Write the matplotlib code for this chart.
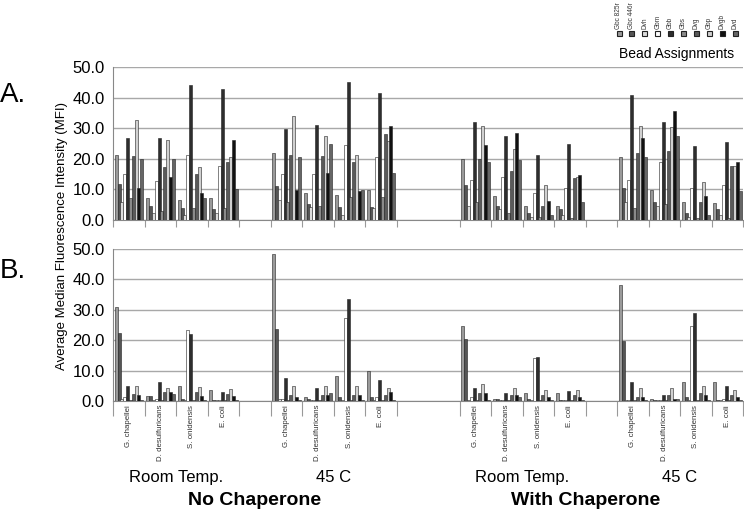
import numpy as np
import matplotlib
matplotlib.use("Agg")
import matplotlib.pyplot as plt

plt.rcParams['font.family'] = ['Liberation Sans', 'DejaVu Sans']

beads = ["Gbc 825r", "Gbc 446r", "Dvh", "Gbm", "Gbb", "Gbs", "Dvg", "Gbp", "Dvgb", "Dvd"]
bead_colors = ["#9a9a9a", "#555555", "#dcdcdc", "#ffffff", "#2e2e2e",
               "#8a8a8a", "#5a5a5a", "#d0d0d0", "#111111", "#666666"]

organisms = ["G. chapellei", "D. desulfuricans", "S. onidensis", "E. coli"]
conditions = ["Room Temp.", "45 C", "Room Temp.", "45 C"]
chaperone = ["No Chaperone", "With Chaperone"]

# category slot of each condition block (20 slots, blanks between blocks)
block_start = [0, 5, 11, 16]

# Panel A values: [condition][organism][bead]
panel_a = [
    [[21.3, 11.8, 6.0, 14.9, 26.7, 7.2, 20.8, 32.8, 10.6, 20.1],
     [7.2, 4.7, 2.2, 12.6, 26.7, 3.0, 17.3, 26.2, 14.2, 20.1],
     [6.5, 4.0, 1.7, 21.3, 44.0, 4.0, 14.9, 17.2, 8.9, 7.1],
     [7.1, 3.6, 2.2, 17.7, 42.7, 4.0, 18.9, 20.5, 26.0, 10.0]],
    [[22.0, 11.1, 6.6, 14.9, 29.6, 6.0, 21.3, 33.9, 9.9, 20.7],
     [8.9, 5.2, 4.2, 14.9, 30.9, 4.7, 20.8, 27.3, 15.4, 24.9],
     [8.3, 4.2, 1.7, 24.4, 45.1, 7.4, 18.9, 21.3, 9.4, 9.9],
     [9.9, 4.2, 4.0, 20.5, 41.6, 7.4, 28.0, 25.7, 30.8, 15.4]],
    [[20.1, 11.3, 4.5, 13.2, 32.1, 5.8, 20.1, 30.8, 24.4, 18.9],
     [7.7, 4.7, 3.6, 14.2, 27.3, 2.2, 16.0, 23.3, 28.5, 19.6],
     [4.7, 2.3, 0.9, 8.9, 21.3, 1.0, 4.7, 11.3, 6.3, 1.7],
     [4.7, 3.6, 1.7, 10.6, 24.9, 0.7, 13.7, 14.2, 14.8, 6.0]],
    [[20.7, 10.6, 6.0, 13.2, 41.0, 4.0, 22.0, 30.8, 26.7, 20.7],
     [9.9, 6.0, 4.7, 18.9, 32.1, 5.2, 22.5, 30.3, 35.6, 27.3],
     [6.0, 2.3, 0.9, 10.6, 24.3, 0.8, 6.0, 12.5, 7.7, 1.7],
     [5.4, 3.6, 1.7, 11.3, 25.6, 0.7, 17.7, 17.7, 18.9, 9.6]],
]

# Panel B values: [condition][organism][bead]
panel_b = [
    [[30.9, 22.5, 0.5, 1.3, 5.0, 0.3, 2.2, 5.0, 2.0, 0.2],
     [1.5, 1.5, 0.3, 0.5, 6.3, 0.3, 2.9, 4.4, 2.8, 2.2],
     [5.0, 0.8, 0.3, 23.4, 22.0, 0.3, 2.8, 4.5, 1.5, 0.2],
     [3.7, 0.2, 0.2, 0.3, 2.8, 0.2, 2.3, 3.8, 1.5, 0.2]],
    [[48.5, 23.8, 0.5, 0.5, 7.6, 0.3, 2.0, 4.8, 1.3, 0.3],
     [1.2, 0.7, 0.2, 0.3, 4.2, 0.3, 2.0, 4.8, 2.0, 2.6],
     [8.3, 1.3, 0.3, 27.4, 33.7, 0.3, 2.0, 4.8, 2.0, 0.3],
     [10.0, 1.3, 0.3, 1.3, 7.0, 0.3, 2.0, 4.3, 2.8, 0.3]],
    [[24.6, 20.4, 0.3, 1.2, 4.2, 0.3, 2.7, 5.5, 2.7, 0.2],
     [0.8, 0.8, 0.2, 0.2, 2.7, 0.2, 2.0, 4.2, 2.0, 1.4],
     [2.7, 0.8, 0.2, 14.0, 14.6, 0.3, 2.0, 3.6, 1.3, 0.2],
     [2.7, 0.2, 0.2, 0.2, 3.4, 0.2, 2.0, 3.6, 1.3, 0.2]],
    [[38.0, 19.7, 0.2, 0.3, 6.2, 0.3, 1.3, 4.3, 1.3, 0.2],
     [0.7, 0.2, 0.2, 0.2, 2.0, 0.2, 2.0, 4.3, 0.7, 0.7],
     [6.3, 1.3, 0.3, 24.6, 28.9, 0.3, 2.7, 4.8, 2.0, 0.2],
     [6.3, 0.2, 0.2, 0.7, 4.8, 0.2, 2.0, 3.6, 1.4, 0.2]],
]

yticks = [0, 10, 20, 30, 40, 50]

fig = plt.figure(figsize=(7.44, 5.12), dpi=100)
ax_a = fig.add_axes([0.1519, 0.5703, 0.8468, 0.2988])
ax_b = fig.add_axes([0.1519, 0.2168, 0.8468, 0.2969])

step = 0.09
bar_w = 0.095
boundaries = []
for s in block_start:
    boundaries += [s + k for k in range(5)]
boundaries = sorted(set(boundaries))

for ax, data in [(ax_a, panel_a), (ax_b, panel_b)]:
    for c, s in enumerate(block_start):
        for o in range(4):
            x0 = s + o + 0.055
            for b in range(10):
                ax.bar(x0 + b * step, data[c][o][b], width=bar_w, align="edge",
                       color=bead_colors[b], edgecolor="#222222", linewidth=0.4,
                       zorder=3)
    ax.set_xlim(0, 20)
    ax.set_ylim(0, 50)
    ax.set_yticks(yticks)
    ax.set_yticklabels([f"{v:.1f}" for v in yticks], fontsize=12)
    ax.yaxis.grid(True, color="#a8a8a8", linewidth=1.0, zorder=0)
    ax.set_axisbelow(True)
    for sp in ["top", "right"]:
        ax.spines[sp].set_visible(False)
    ax.spines["left"].set_color("#888888")
    ax.spines["bottom"].set_color("#888888")
    ax.tick_params(axis="y", length=0, pad=6)
    ax.set_xticks(boundaries)
    ax.set_xticklabels([])
    ax.tick_params(axis="x", length=5, color="#999999", width=0.8)

ax_b.tick_params(axis="x", length=11)

# rotated organism labels under panel B
for c, s in enumerate(block_start):
    for o in range(4):
        ax_b.text(s + o + 0.5, -1.3, organisms[o], rotation=90, ha="center",
                  va="top", fontsize=5.7, color="#333333")
    ax_b.text(s + 2, -25.0, conditions[c], ha="center", va="center", fontsize=12)

ax_b.text(4.5, -32.6, chaperone[0], ha="center", va="center", fontsize=14,
          fontweight="bold")
ax_b.text(15.0, -32.6, chaperone[1], ha="center", va="center", fontsize=14,
          fontweight="bold")

fig.text(0.0, 0.815, "A.", fontsize=20, ha="left", va="center")
fig.text(0.0, 0.47, "B.", fontsize=20, ha="left", va="center")
fig.text(0.083, 0.54, "Average Median Fluorescence Intensity (MFI)", rotation=90,
         ha="center", va="center", fontsize=9.5)

# legend: rotated names above small squares
for i, name in enumerate(beads):
    x = (619 + i * 12.9) / 744
    fig.text(x, 1 - 29 / 512, name, rotation=90, ha="center", va="bottom",
             fontsize=4.7, color="#333333")
    fig.patches.append(plt.Rectangle((x - 2.5 / 744, 1 - 36 / 512), 5 / 744, 5 / 512,
                                     transform=fig.transFigure,
                                     facecolor=bead_colors[i], edgecolor="#222222",
                                     linewidth=0.8, figure=fig))
fig.text(677 / 744, 1 - 54 / 512, "Bead Assignments", ha="center", va="center",
         fontsize=10)

fig.savefig("out.png", dpi=100)
